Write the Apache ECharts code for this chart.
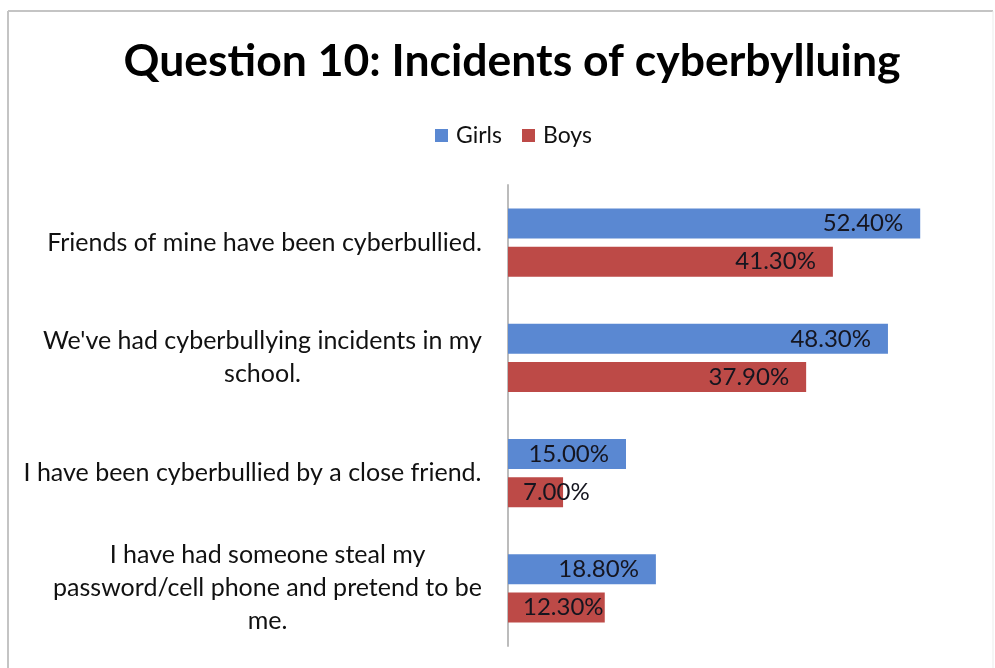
<!DOCTYPE html>
<html>
<head>
<meta charset="utf-8">
<script src="https://cdn.jsdelivr.net/npm/echarts@6/dist/echarts.min.js"></script>
<style>
html,body{margin:0;padding:0;background:#fff;}
#chart{width:995px;height:668px;}
</style>
</head>
<body>
<div id="chart"></div>
<script>
const titleText = 'Question 10: Incidents of cyberbylluing';
const categories = [
  'Friends of mine have been cyberbullied.',
  "We've had cyberbullying incidents in my\nschool.",
  'I have been cyberbullied by a close friend.',
  'I have had someone steal my\npassword/cell phone and pretend to be\nme.'
];
const seriesNames = ['Girls', 'Boys'];
const girls = [52.4, 48.3, 15.0, 18.8];
const boys = [41.3, 37.9, 7.0, 12.3];

const FONT = 'Lato';
const CAT_SIZE = 25;
const VAL_SIZE = 24;
const colors = ['#5a88d2', '#bd4a47'];

const cv = document.createElement('canvas').getContext('2d');
function textW(t, size, weight) {
  cv.font = (weight || 'normal') + ' ' + size + 'px ' + FONT;
  return cv.measureText(t).width;
}

const rich = {};
categories.forEach((c, i) => {
  const w = Math.max(...c.split('\n').map(l => textW(l, CAT_SIZE)));
  rich['c' + i] = { width: Math.ceil(w), align: 'center', fontFamily: FONT, fontSize: CAT_SIZE, color: '#111', lineHeight: 33 };
});

const AX_MAX = 60;
const chart = echarts.init(document.getElementById('chart'));

function makeData(vals) {
  return vals.map(v => {
    const lbl = v.toFixed(2) + '%';
    const pxLen = v / AX_MAX * (980 - 508);
    const lw = textW(lbl, VAL_SIZE);
    if (pxLen < lw + 32) {
      return { value: v, label: { position: 'insideLeft', distance: 15 } };
    }
    return { value: v };
  });
}

const valLabel = {
  show: true,
  position: 'insideRight',
  distance: 17,
  fontFamily: FONT,
  fontSize: VAL_SIZE,
  color: '#15151f',
  formatter: p => p.value.toFixed(2) + '%'
};

chart.setOption({
  animation: false,
  backgroundColor: '#fff',
  graphic: [
    { type: 'line', silent: true, z: -10, shape: { x1: 8, y1: 11, x2: 993, y2: 11 }, style: { stroke: '#c4c4c4', lineWidth: 2 } },
    { type: 'line', silent: true, z: -10, shape: { x1: 8, y1: 11, x2: 8, y2: 668 }, style: { stroke: '#c4c4c4', lineWidth: 2 } },
    { type: 'line', silent: true, z: -10, shape: { x1: 993, y1: 11, x2: 993, y2: 668 }, style: { stroke: '#ebebeb', lineWidth: 1 } }
  ],
  title: {
    text: titleText,
    left: 507,
    top: 34,
    textAlign: 'center',
    textStyle: { fontFamily: FONT, fontWeight: 'bold', fontSize: 44.5, color: '#000' }
  },
  legend: {
    data: seriesNames,
    left: 430,
    top: 119,
    itemWidth: 13,
    itemHeight: 13,
    itemGap: 20,
    icon: 'rect',
    textStyle: { fontFamily: FONT, fontSize: 23, color: '#111', padding: [0, 0, 0, 3] }
  },
  grid: { left: 508, right: 15, top: 185, bottom: 22, containLabel: false },
  xAxis: {
    type: 'value', min: 0, max: AX_MAX,
    show: false,
    splitLine: { show: false }
  },
  yAxis: {
    type: 'category',
    data: categories,
    inverse: true,
    axisLine: { show: true, lineStyle: { color: '#bcbcbc', width: 2 } },
    axisTick: { show: false },
    axisLabel: {
      margin: 26,
      align: 'right',
      formatter: (v, i) => v.split('\n').map(l => '{c' + i + '|' + l + '}').join('\n'),
      rich: rich
    }
  },
  series: [
    { name: seriesNames[0], type: 'bar', data: makeData(girls), barWidth: 30, barGap: '27%', itemStyle: { color: colors[0] }, label: valLabel },
    { name: seriesNames[1], type: 'bar', data: makeData(boys), barWidth: 30, barGap: '27%', itemStyle: { color: colors[1] }, label: valLabel }
  ]
});
</script>
</body>
</html>
